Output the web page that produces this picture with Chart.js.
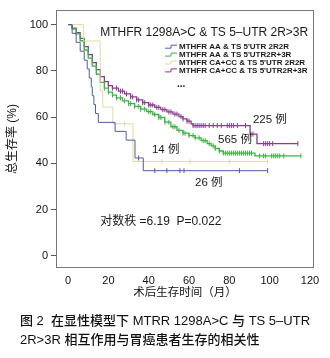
<!DOCTYPE html>
<html><head><meta charset="utf-8">
<script src="https://cdn.jsdelivr.net/npm/chart.js@4.4.1/dist/chart.umd.min.js"></script>
<style>html,body{margin:0;padding:0;background:#fff;}canvas{display:block}</style>
</head><body>
<canvas id="c" width="330" height="358" style="width:330px;height:358px"></canvas>
<script>
// ---- data ----
const seriesNames = ["MTHFR AA & TS 5'UTR 2R2R", "MTHFR AA & TS 5'UTR2R+3R", "MTHFR CA+CC & TS 5'UTR 2R2R", "MTHFR CA+CC & TS 5'UTR2R+3R"];
const seriesColors = ['#4f5ca6', '#3db244', '#e0d9a2', '#8c3c90'];
const xTicks = [0, 20, 40, 60, 80, 100, 120];
const yTicks = [0, 20, 40, 60, 80, 100];

// MTHFR AA & TS 2R2R (26 cases)
const aa2r2rMonths = [0, 2, 4, 6, 8, 9.5, 10.5, 11.5, 12, 12.8, 13.6, 15, 23.3, 28.8, 33.2, 37.3, 99];
const aa2r2rSurv   = [100, 96.2, 92.3, 88.5, 84.6, 80.8, 76.9, 73.1, 69.2, 65.4, 61.5, 57.7, 53.8, 50, 42.3, 36.8, 36.8];
const aa2r2rCensor = [35, 43, 49, 55.5, 57.5, 85, 99];

// MTHFR AA & TS 2R+3R (565 cases)
const aa2r3rMonths = [0, 2, 4, 6, 8, 10, 12, 14, 16, 18, 20, 22, 24, 27, 30, 33, 36, 39, 42, 45, 48, 51, 54, 57, 60, 63, 66, 69, 71, 73, 75, 77, 92.7, 115.5];
const aa2r3rSurv   = [100, 98, 96, 93, 89, 85.5, 82, 78.5, 75, 72.5, 70.8, 69.5, 68.3, 67, 65.8, 64.6, 63.4, 62.3, 61.1, 59.8, 57.8, 55.8, 54.2, 53, 52, 51, 49.8, 48.5, 47.5, 46.4, 45.3, 44.4, 43.2, 43.2];
const aa2r3rCensor = [18, 20, 22, 24, 26, 28, 30, 31, 33, 35, 36, 38, 40, 41, 43, 45, 46, 48, 50, 52, 53, 55, 57, 58, 60, 62, 63, 65, 67, 68, 70, 72, 73, 75, 77, 78, 79, 80, 81, 82, 83, 84, 85, 86, 87, 88, 89, 90, 91, 95, 97, 98, 101, 102, 103, 104, 105, 107, 115.5];

// MTHFR CA+CC & TS 2R2R (14 cases)
const ca2r2rMonths = [0, 7.6, 15.9, 17.2, 22.2, 32.2, 99];
const ca2r2rSurv   = [100, 92.9, 71.4, 64.3, 57.1, 40.8, 40.8];
const ca2r2rCensor = [28, 46.5, 60.5, 80, 99];

// MTHFR CA+CC & TS 2R+3R (225 cases)
const ca2r3rMonths = [0, 2, 4, 6, 8, 10, 12, 14, 16, 18, 20, 22, 25, 28, 31, 34, 37, 40, 43, 46, 49, 52, 55, 57, 59, 61, 62, 90.3, 93.7, 114];
const ca2r3rSurv   = [100, 98.5, 96.5, 94, 90.5, 87, 83.5, 80.5, 77.5, 75.3, 73.6, 72.5, 71.2, 70, 68.7, 67.4, 66.2, 65.2, 64.2, 63.2, 62.2, 61.3, 60.2, 59.2, 58.2, 57, 56.3, 52.6, 48.5, 48.5];
const ca2r3rCensor = [20, 22, 24, 26, 27, 29, 31, 32, 34, 35, 37, 38, 40, 41, 42, 44, 45, 47, 48, 50, 51, 53, 54, 56, 57, 59, 60, 62, 63, 64, 65, 66, 67, 68, 70, 72, 74, 76, 79, 80, 81, 82, 84, 88, 90.7, 91.7, 97, 98, 99, 100, 101.5, 114];

const caseLabels = ['26 例', '565 例', '14 例', '225 例'];
const headerText = 'MTHFR 1298A>C & TS 5–UTR 2R>3R';
const statText = '对数秩 =6.19  P=0.022';
const yTitle = '总生存率 (%)';
const xTitle = '术后生存时间（月）';
const captionLines = ['图 2  在显性模型下 MTRR 1298A>C 与 TS 5–UTR', '2R>3R 相互作用与胃癌患者生存的相关性'];

// ---- build ----
const FF = '"Liberation Sans", Arial, "Noto Sans CJK SC", sans-serif';
Chart.defaults.font.family = FF;

function curve(ms, ss) { return ms.map((m, i) => ({x: m, y: ss[i]})); }
function survAt(ms, ss, t) { let v = ss[0]; for (let i = 0; i < ms.length; i++) { if (ms[i] <= t) v = ss[i]; } return v; }
function marks(ms, ss, cs) { return cs.map(t => ({x: t, y: survAt(ms, ss, t)})); }

const groups = [
  [aa2r2rMonths, aa2r2rSurv, aa2r2rCensor, 0, 1],
  [ca2r2rMonths, ca2r2rSurv, ca2r2rCensor, 2, 1],
  [aa2r3rMonths, aa2r3rSurv, aa2r3rCensor, 1, 1.3],
  [ca2r3rMonths, ca2r3rSurv, ca2r3rCensor, 3, 1.3],
];
const datasets = [];
groups.forEach(([ms, ss, cs, ci, bw]) => {
  datasets.push({type: 'line', label: seriesNames[ci], data: curve(ms, ss), stepped: true,
    borderColor: seriesColors[ci], borderWidth: bw, pointRadius: 0, fill: false, tension: 0});
  datasets.push({type: 'scatter', label: seriesNames[ci] + ' censored', data: marks(ms, ss, cs),
    pointStyle: 'line', rotation: 90, pointRadius: 2.5, borderColor: seriesColors[ci], borderWidth: 1,
    backgroundColor: seriesColors[ci]});
});

const plotLabels = [
  {text: headerText, m: 15.9, p: 96.6, size: 12},
  {text: caseLabels[3], m: 91.7, p: 58.7, size: 11.5},
  {text: caseLabels[1], m: 74.4, p: 50, size: 11.5},
  {text: caseLabels[2], m: 41.6, p: 45.7, size: 11.5},
  {text: caseLabels[0], m: 63, p: 31.4, size: 11.5},
  {text: statText, m: 15.9, p: 14.6, size: 12},
];

const deco = {
  id: 'deco',
  beforeDatasetsDraw(chart) {
    const {ctx, chartArea: a} = chart;
    ctx.save();
    ctx.strokeStyle = '#777'; ctx.lineWidth = 1;
    ctx.strokeRect(Math.round(a.left) + 0.5, Math.round(a.top) + 0.5, Math.round(a.width) - 1, Math.round(a.height) - 1);
    ctx.restore();
  },
  afterDraw(chart) {
    const {ctx, scales: {x, y}} = chart;
    ctx.save();
    ctx.fillStyle = '#1a1a1a';
    ctx.textBaseline = 'middle'; ctx.textAlign = 'left';
    plotLabels.forEach(l => {
      ctx.font = l.size + 'px ' + FF;
      ctx.fillText(l.text, x.getPixelForValue(l.m), y.getPixelForValue(l.p));
    });
    // legend
    const lx = 165, ly = 46.7, step = 7.9;
    ctx.font = 'bold 8px ' + FF;
    seriesNames.forEach((n, i) => {
      const yy = ly + i * step;
      ctx.strokeStyle = seriesColors[i]; ctx.lineWidth = 1;
      ctx.beginPath();
      ctx.moveTo(lx, yy + 1.5); ctx.lineTo(lx + 6, yy + 1.5); ctx.lineTo(lx + 6, yy - 1.5); ctx.lineTo(lx + 12, yy - 1.5);
      ctx.stroke();
      ctx.fillStyle = '#1a1a1a';
      ctx.fillText(n, lx + 14, yy);
    });
    ctx.font = 'bold 10px ' + FF;
    ctx.fillText('...', lx + 12, ly + 4 * step + 6);
    // caption
    ctx.font = '500 13px ' + FF;
    ctx.fillStyle = '#111';
    ctx.fillText(captionLines[0], 20, 321.7);
    ctx.fillText(captionLines[1], 20, 340.5);
    ctx.restore();
  }
};

new Chart(document.getElementById('c'), {
  type: 'line',
  data: {datasets},
  options: {
    responsive: false, animation: false, devicePixelRatio: 1,
    layout: {padding: {top: 10, right: 16, left: 0, bottom: 56}},
    plugins: {legend: {display: false}, tooltip: {enabled: false}},
    scales: {
      x: {
        type: 'linear', min: -6, max: 122,
        afterBuildTicks: s => { s.ticks = xTicks.map(v => ({value: v})); },
        afterFit: s => { s.height = 34; },
        grid: {display: false, drawTicks: false},
        border: {display: false},
        ticks: {font: {size: 11}, color: '#111', padding: 6, maxRotation: 0, autoSkip: false},
        title: {display: true, text: xTitle, font: {size: 11.5}, color: '#111', padding: {top: 0, bottom: 2}}
      },
      y: {
        type: 'linear', min: -5.3, max: 106.3,
        afterBuildTicks: s => { s.ticks = yTicks.map(v => ({value: v})); },
        afterFit: s => { s.width = 56; },
        grid: {display: true, drawOnChartArea: false, drawTicks: true, tickLength: 5, color: '#555'},
        border: {display: false},
        ticks: {font: {size: 11}, color: '#111', padding: 3, autoSkip: false},
        title: {display: true, text: yTitle, font: {size: 12}, color: '#111', padding: {top: 5, bottom: 0}}
      }
    }
  },
  plugins: [deco]
});
</script>
</body></html>
